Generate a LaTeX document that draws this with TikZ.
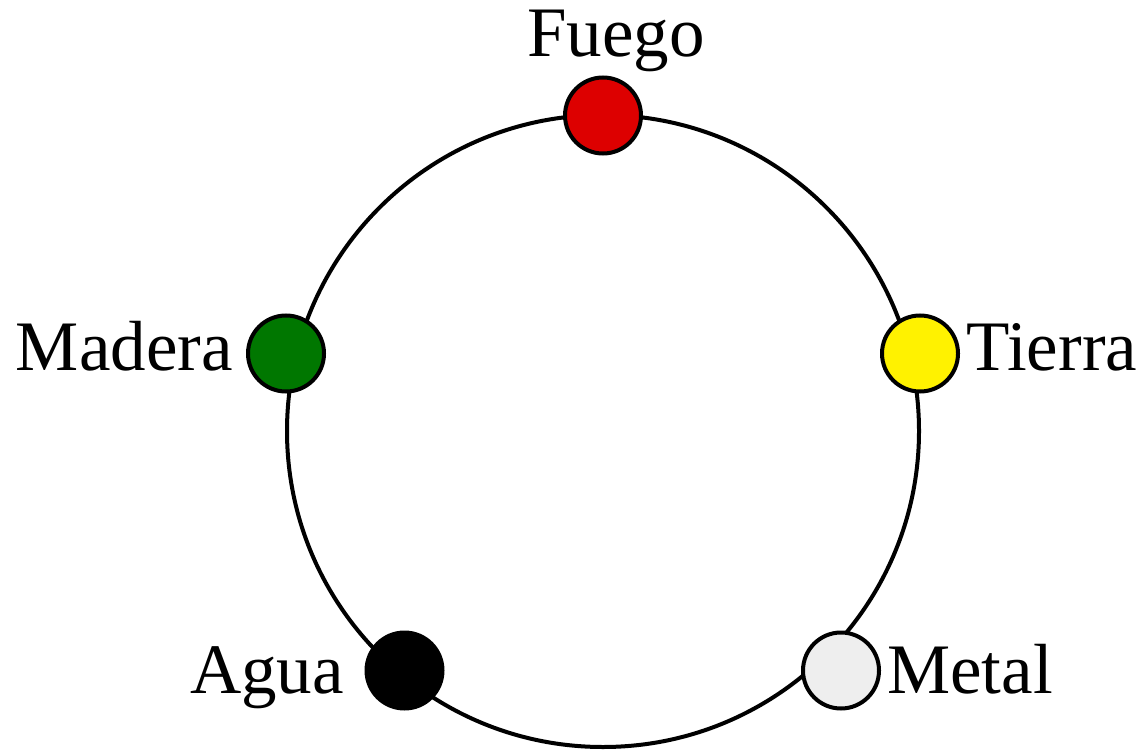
\documentclass[tikz,border=0pt]{standalone}
\usepackage{fontspec}
\setmainfont{Liberation Serif}
\usetikzlibrary{positioning}
\definecolor{fuegored}{HTML}{DD0000}
\definecolor{maderagreen}{HTML}{007700}
\definecolor{metalgray}{HTML}{EEEEEE}
\tikzset{
  elem/.style={draw, circle, line width=4pt, fill=#1, minimum size=76pt, inner sep=0pt},
  lbl/.style={inner sep=0pt, font=\fontsize{71}{80}\selectfont},
  ring/.style={draw, line width=4pt},
}
\begin{document}
\begin{tikzpicture}[x=1pt, y=-1pt]
    \useasboundingbox (0,0) rectangle (1147,751);
    \coordinate (c) at (603,431);
    \draw[ring] (c) circle[radius=316pt];
    \node[elem=fuegored] (fue) at (603,115.5) {};
    \node[elem=yellow] (tie) at (920,353.5) {};
    \node[elem=metalgray] (met) at (841,670.5) {};
    \node[elem=black] (agu) at (404.5,670.5) {};
    \node[elem=maderagreen] (mad) at (286,353.5) {};
    \node[lbl, anchor=base] (fuel) at (616,57) {Fuego};
    \node[lbl, anchor=base west] (tiel) at (966,370) {Tierra};
    \node[lbl, anchor=base west] (metl) at (887,693) {Metal};
    \node[lbl, anchor=base east] (agul) at (344,693) {Agua};
    \node[lbl, anchor=base east] (madl) at (233,370) {Madera};
\end{tikzpicture}
\end{document}
